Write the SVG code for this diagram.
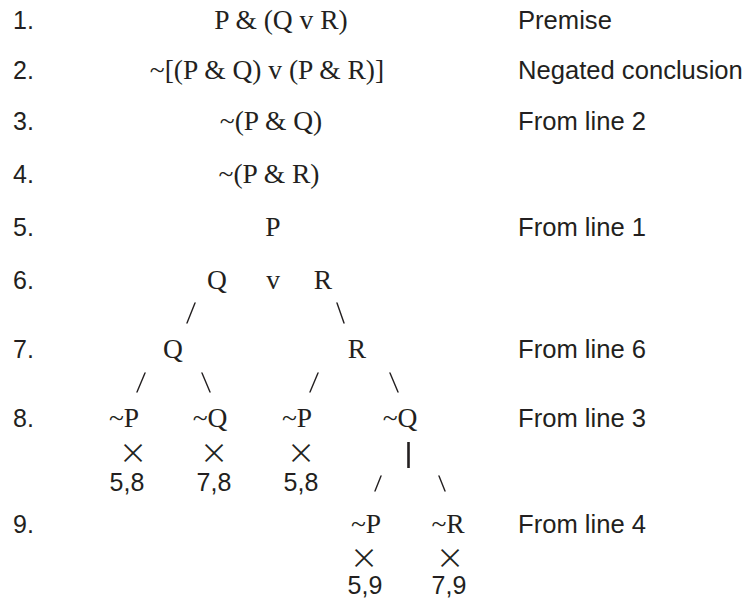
<svg xmlns="http://www.w3.org/2000/svg" width="749" height="607" viewBox="0 0 749 607">
<style>
.f{font-family:"Liberation Serif","Times New Roman",serif;font-size:27.5px;fill:#231f20;text-anchor:middle}
.n{font-family:"Liberation Sans",Arial,sans-serif;font-size:25px;fill:#231f20}
.a{font-family:"Liberation Sans",Arial,sans-serif;font-size:25.6px;fill:#231f20}
.x{font-family:Inter,"Liberation Sans",sans-serif;font-weight:250;font-size:42px;fill:#231f20;text-anchor:middle}
.c{font-family:"Liberation Sans",Arial,sans-serif;font-size:25px;fill:#231f20;text-anchor:middle}
.e{stroke:#231f20;stroke-width:1.4;fill:none;stroke-linecap:round}
</style>
<rect width="749" height="607" fill="#ffffff"/>
<g id="line-numbers">
<text class="n" x="13" y="29">1.</text>
<text class="n" x="13" y="79">2.</text>
<text class="n" x="13" y="130">3.</text>
<text class="n" x="13" y="183">4.</text>
<text class="n" x="13" y="236">5.</text>
<text class="n" x="13" y="289">6.</text>
<text class="n" x="13" y="358">7.</text>
<text class="n" x="13" y="427">8.</text>
<text class="n" x="13" y="533">9.</text>
</g>
<g id="annotations">
<text class="a" x="518" y="29">Premise</text>
<text class="a" x="518" y="79">Negated conclusion</text>
<text class="a" x="518" y="130">From line 2</text>
<text class="a" x="518" y="236">From line 1</text>
<text class="a" x="518" y="358">From line 6</text>
<text class="a" x="518" y="427">From line 3</text>
<text class="a" x="518" y="533">From line 4</text>
</g>
<g id="n1"><text class="f" x="281" y="29">P &amp; (Q v R)</text></g>
<g id="n2"><text class="f" x="267" y="79">~[(P &amp; Q) v (P &amp; R)]</text></g>
<g id="n3"><text class="f" x="271" y="130">~(P &amp; Q)</text></g>
<g id="n4"><text class="f" x="269" y="183">~(P &amp; R)</text></g>
<g id="n5"><text class="f" x="273" y="236">P</text></g>
<g id="n6"><text class="f" x="217" y="289">Q</text><text class="f" x="273" y="289">v</text><text class="f" x="323" y="289">R</text></g>
<g id="n7-q"><text class="f" x="173" y="358">Q</text></g>
<g id="n7-r"><text class="f" x="357" y="358">R</text></g>
<g id="n8-a"><text class="f" x="124" y="427">~P</text><text class="x" x="133" y="465">×</text><text class="c" x="127" y="491">5,8</text></g>
<g id="n8-b"><text class="f" x="210" y="427">~Q</text><text class="x" x="214" y="465">×</text><text class="c" x="214" y="491">7,8</text></g>
<g id="n8-c"><text class="f" x="297" y="427">~P</text><text class="x" x="301" y="465">×</text><text class="c" x="301" y="491">5,8</text></g>
<g id="n8-d"><text class="f" x="400" y="427">~Q</text></g>
<g id="n9-a"><text class="f" x="366" y="533">~P</text><text class="x" x="364" y="570">×</text><text class="c" x="365" y="594">5,9</text></g>
<g id="n9-b"><text class="f" x="448" y="533">~R</text><text class="x" x="450" y="570">×</text><text class="c" x="449" y="594">7,9</text></g>
<g id="connectors">
<line class="e" x1="195" y1="303" x2="187" y2="323"/>
<line class="e" x1="337" y1="303" x2="344" y2="323"/>
<line class="e" x1="145" y1="373" x2="137" y2="392"/>
<line class="e" x1="202" y1="373" x2="210" y2="392"/>
<line class="e" x1="318" y1="373" x2="310" y2="392"/>
<line class="e" x1="390" y1="373" x2="398" y2="392"/>
<line class="e" x1="408.5" y1="442" x2="408.5" y2="468" style="stroke-width:2.6;stroke-linecap:butt"/>
<line class="e" x1="381" y1="476" x2="375" y2="491"/>
<line class="e" x1="439" y1="476" x2="445" y2="491"/>
</g>
</svg>
